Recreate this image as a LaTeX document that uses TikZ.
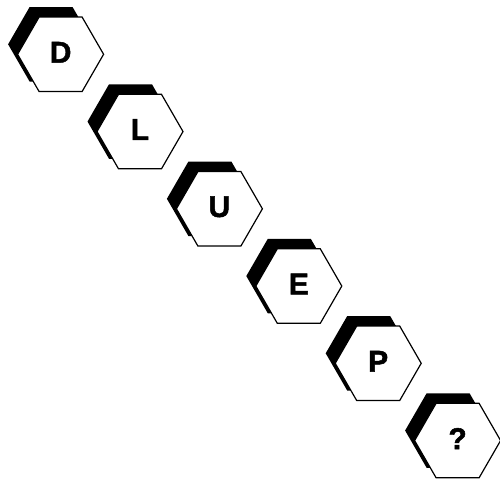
\documentclass[tikz,border=0pt]{standalone}
\usepackage{fontspec}
\setmainfont{Liberation Sans}
\newfontfamily\heavyfont{Liberation Sans}[BoldFont={Liberation Sans Bold},BoldFeatures={FakeBold=1.6}]
\begin{document}
\begin{tikzpicture}[x=1pt,y=-1pt,
  hexshadow/.style={fill=black,draw=none},
  hexface/.style={fill=white,draw=black,line width=1.2pt,line join=miter},
  hexlabel/.style={font=\heavyfont\bfseries\fontsize{30}{30}\selectfont,inner sep=0pt}]
\useasboundingbox (0,0) rectangle (500,485);
\def\R{43}
\foreach \lab [count=\i from 0] in {D,L,U,E,P,?}{
  \pgfmathsetmacro{\cx}{60.6+79.4*\i}
  \pgfmathsetmacro{\cy}{54.3+77.25*\i}
  \begin{scope}[shift={(\cx-9.5,\cy-10)}]
    \fill[hexshadow] (0:\R) -- (60:\R) -- (120:\R) -- (180:\R) -- (240:\R) -- (300:\R) -- cycle;
  \end{scope}
  \begin{scope}[shift={(\cx,\cy)}]
    \filldraw[hexface] (0:\R) -- (60:\R) -- (120:\R) -- (180:\R) -- (240:\R) -- (300:\R) -- cycle;
    \node[hexlabel] (h\i) at (0,-2) {\lab};
  \end{scope}
}
\end{tikzpicture}
\end{document}
